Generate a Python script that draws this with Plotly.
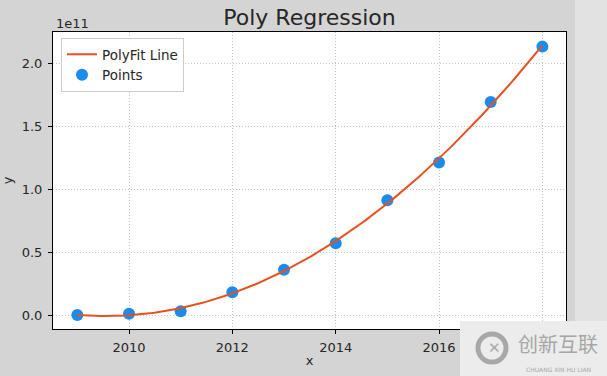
import numpy as np
import plotly.graph_objects as go

# Data
years = [2009, 2010, 2011, 2012, 2013, 2014, 2015, 2016, 2017, 2018]
values = [0.0, 0.01e11, 0.03e11, 0.18e11, 0.36e11, 0.57e11, 0.91e11, 1.21e11, 1.69e11, 2.13e11]
y_tick_vals = [0.0, 0.5e11, 1.0e11, 1.5e11, 2.0e11]
y_tick_text = ["0.0", "0.5", "1.0", "1.5", "2.0"]
x_tick_vals = [2010, 2012, 2014, 2016, 2018]
x_tick_text = ["2010", "2012", "2014", "2016", ""]  # 2018 label hidden under the watermark

# Polynomial (degree 2) fit of the points
xa = np.array(years, dtype=float)
ya = np.array(values, dtype=float)
coef = np.polyfit(xa - 2009, ya, 2)
x_fit = np.linspace(2009, 2018, 200)
y_fit = np.polyval(coef, x_fit - 2009)

W, H = 607, 376
L, R, T, B = 53, 41, 32, 47
PW, PH = W - L - R, H - T - B


def px(x):
    return (x - L) / PW


def py(y):
    return (H - B - y) / PH


fig = go.Figure()
fig.add_trace(go.Scatter(x=years, y=values, mode="markers", name="Points", legendrank=2,
                         marker=dict(color="#1c8cec", size=12, line=dict(width=0))))
fig.add_trace(go.Scatter(x=x_fit, y=y_fit, mode="lines", name="PolyFit Line", legendrank=1,
                         line=dict(color="#e6521f", width=2)))

axis_common = dict(showline=True, mirror=True, linecolor="black", linewidth=1,
                   ticks="outside", ticklen=4, tickcolor="black", automargin=False,
                   showgrid=True, gridcolor="#c4c4c4", griddash="1px,2px", gridwidth=1,
                   zeroline=False, tickfont=dict(size=13, color="#262626"))

fig.update_layout(
    width=W, height=H,
    margin=dict(l=L, r=R, t=T, b=B, autoexpand=False),
    paper_bgcolor="#d4d4d4",
    plot_bgcolor="white",
    font=dict(family="DejaVu Sans", color="#262626"),
    title=dict(text="Poly Regression", x=0.5, xref="paper", xanchor="center",
               y=1 - 17 / H, yanchor="middle", automargin=False,
               font=dict(size=22, color="#262626")),
    xaxis=dict(range=[2008.529, 2018.457], tickvals=x_tick_vals, ticktext=x_tick_text,
               ticklabelstandoff=2,
               title=dict(text="x", font=dict(size=13), standoff=2), **axis_common),
    yaxis=dict(range=[-0.111e11, 2.246e11], tickvals=y_tick_vals, ticktext=y_tick_text,
               ticklabelstandoff=3,
               title=dict(text="y", font=dict(size=13), standoff=6), **axis_common),
    legend=dict(x=px(61), y=py(38), xanchor="left", yanchor="top",
                bgcolor="white", bordercolor="#cccccc", borderwidth=1,
                tracegroupgap=0, itemwidth=30,
                font=dict(size=13.5, color="#262626")),
    showlegend=True,
)

fig.add_annotation(text="1e11", xref="paper", yref="paper", x=px(54), y=py(23), xanchor="left",
                   yanchor="middle", showarrow=False, font=dict(size=13, color="#262626"))

# lighter strip on the right edge of the picture
fig.add_shape(type="rect", xref="paper", yref="paper", x0=px(575), x1=px(W),
              y0=py(H), y1=py(0), fillcolor="#e2e2e2", line=dict(width=0), layer="below")

# watermark box in the lower right corner
fig.add_shape(type="rect", xref="paper", yref="paper", x0=px(460), x1=px(W),
              y0=py(H), y1=py(321), fillcolor="#ececec", line=dict(width=0), layer="above")
fig.add_shape(type="circle", xref="paper", yref="paper", x0=px(478), x1=px(506),
              y0=py(362), y1=py(334), fillcolor="rgba(0,0,0,0)",
              line=dict(color="#a8a8a8", width=5), layer="above")
fig.add_annotation(text="<b>✕</b>", xref="paper", yref="paper", x=px(494), y=py(348),
                   xanchor="center", yanchor="middle",
                   showarrow=False, font=dict(size=15, color="#a8a8a8"))
fig.add_annotation(text="创新互联", xref="paper", yref="paper", x=px(558), y=py(343),
                   xanchor="center", yanchor="middle", borderpad=0,
                   showarrow=False, font=dict(size=20, color="#a6a6a6", family="Noto Sans CJK SC"))
fig.add_annotation(text="CHUANG XIN HU LIAN", xref="paper", yref="paper", x=px(558), y=py(369),
                   xanchor="center", yanchor="middle", borderpad=0,
                   showarrow=False, font=dict(size=6, color="#a6a6a6"))

fig.write_html("out.html", config={"displayModeBar": False},
               post_script="document.body.style.margin='0';document.body.style.overflow='hidden';")
